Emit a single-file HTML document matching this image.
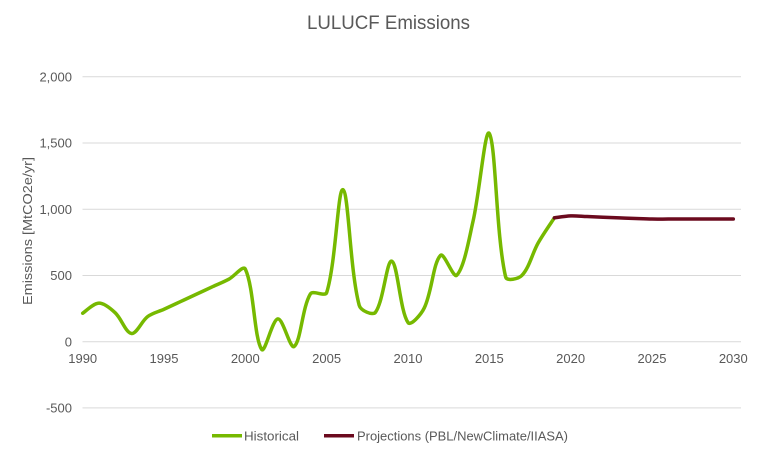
<!DOCTYPE html>
<html>
<head>
<meta charset="utf-8">
<style>
html,body{margin:0;padding:0;background:#fff;}
svg{display:block;}
text{font-family:"Liberation Sans",sans-serif;fill:#595959;}
</style>
</head>
<body>
<svg id="c" width="777" height="456" viewBox="0 0 777 456" xmlns="http://www.w3.org/2000/svg">
<rect width="777" height="456" fill="#fff"/>
<text x="388.5" y="29" font-size="19" text-anchor="middle" textLength="163" lengthAdjust="spacingAndGlyphs">LULUCF Emissions</text>
<g stroke="#d9d9d9" stroke-width="1">
<line x1="82.5" x2="741" y1="76.8" y2="76.8"/>
<line x1="82.5" x2="741" y1="143.0" y2="143.0"/>
<line x1="82.5" x2="741" y1="209.3" y2="209.3"/>
<line x1="82.5" x2="741" y1="275.5" y2="275.5"/>
<line x1="82.5" x2="741" y1="341.7" y2="341.7"/>
<line x1="82.5" x2="741" y1="407.9" y2="407.9"/>
</g>
<g font-size="13" text-anchor="end">
<text x="72" y="81.5">2,000</text>
<text x="72" y="147.7">1,500</text>
<text x="72" y="214">1,000</text>
<text x="72" y="280.2">500</text>
<text x="72" y="346.4">0</text>
<text x="72" y="412.6">-500</text>
</g>
<g font-size="13" text-anchor="middle">
<text x="82.7" y="363">1990</text>
<text x="164" y="363">1995</text>
<text x="245.3" y="363">2000</text>
<text x="326.6" y="363">2005</text>
<text x="408" y="363">2010</text>
<text x="489.3" y="363">2015</text>
<text x="570.6" y="363">2020</text>
<text x="652" y="363">2025</text>
<text x="733.3" y="363">2030</text>
</g>
<text transform="translate(32,231) rotate(-90)" font-size="13" text-anchor="middle" textLength="148" lengthAdjust="spacingAndGlyphs">Emissions [MtCO2e/yr]</text>
<path id="hist" fill="none" stroke="#76b900" stroke-width="3.5" stroke-linejoin="round" stroke-linecap="round" d=""/>
<path id="proj" fill="none" stroke="#6b0a1e" stroke-width="3.5" stroke-linejoin="round" stroke-linecap="round" d=""/>
<line x1="212" x2="242" y1="435.7" y2="435.7" stroke="#76b900" stroke-width="3.5"/>
<text x="244" y="440.5" font-size="13" textLength="55" lengthAdjust="spacingAndGlyphs">Historical</text>
<line x1="324" x2="354" y1="435.7" y2="435.7" stroke="#6b0a1e" stroke-width="3.5"/>
<text x="357" y="440.5" font-size="13" textLength="211" lengthAdjust="spacingAndGlyphs">Projections (PBL/NewClimate/IIASA)</text>
</svg>
<script>
(function(){
function X(yr){return 82.7+(yr-1990)*16.265;}
function Y(v){return 341.7-v*0.13245;}
var hv=[215,291,218,62,190,245,302,359,416,473,548,-58,172,-36,361,371,1148,275,222,608,145,255,652,502,910,1572,490,500,745,935];
var pv={2019:935,2020:950,2021:945,2022:940,2023:935,2024:930,2025:926,2026:926,2027:926,2028:926,2029:926,2030:926};
function dist(a,b){return Math.sqrt((a[0]-b[0])*(a[0]-b[0])+(a[1]-b[1])*(a[1]-b[1]));}
function path(pts){
  var n=pts.length, tin=[], tout=[];
  for(var i=0;i<n;i++){
    var p0=pts[i>0?i-1:i],p2=pts[i<n-1?i+1:i],p1=pts[i];
    var tx=(p2[0]-p0[0])/6, ty=(p2[1]-p0[1])/6;
    var di=i>0?dist(p0,p1):0, dout=i<n-1?dist(p1,p2):0;
    var s=di+dout; var fi=1,fo=1;
    if(s>0 && i>0 && i<n-1){fi=2*di/s; fo=2*dout/s;}
    tin.push([tx*fi,ty*fi]); tout.push([tx*fo,ty*fo]);
  }
  var d="M"+pts[0][0].toFixed(2)+","+pts[0][1].toFixed(2);
  for(var i=0;i<n-1;i++){
    var p1=pts[i],p2=pts[i+1];
    var c1x=p1[0]+tout[i][0],c1y=p1[1]+tout[i][1];
    var c2x=p2[0]-tin[i+1][0],c2y=p2[1]-tin[i+1][1];
    d+=" C"+c1x.toFixed(2)+","+c1y.toFixed(2)+" "+c2x.toFixed(2)+","+c2y.toFixed(2)+" "+p2[0].toFixed(2)+","+p2[1].toFixed(2);
  }
  return d;
}
var hp=[];for(var i=0;i<hv.length;i++){hp.push([X(1990+i),Y(hv[i])]);}
var pp=[];for(var y=2019;y<=2030;y++){pp.push([X(y),Y(pv[y])]);}
document.getElementById("hist").setAttribute("d",path(hp));
document.getElementById("proj").setAttribute("d",path(pp));
})();
</script>
</body>
</html>
